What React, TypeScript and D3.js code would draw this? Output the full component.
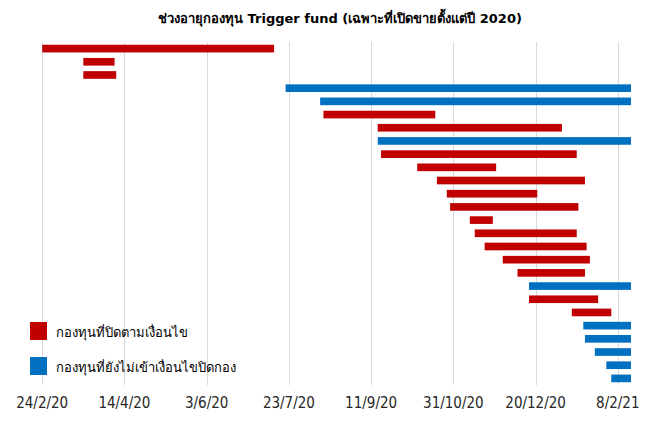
import { useEffect, useRef } from 'react';
import * as d3 from 'd3';

// one row per fund, top to bottom; end === null means still open on asOfDate
const fundStarts = [
	'2020-02-24', '2020-03-20', '2020-03-20', '2020-07-21', '2020-08-11',
	'2020-08-13', '2020-09-15', '2020-09-15', '2020-09-17', '2020-10-09',
	'2020-10-21', '2020-10-27', '2020-10-29', '2020-11-10', '2020-11-13',
	'2020-11-19', '2020-11-30', '2020-12-09', '2020-12-16', '2020-12-16',
	'2021-01-11', '2021-01-18', '2021-01-19', '2021-01-25', '2021-02-01',
	'2021-02-04',
];

const fundEnds: (string | null)[] = [
	'2020-07-14', '2020-04-08', '2020-04-09', null, null,
	'2020-10-20', '2021-01-05', null, '2021-01-14', '2020-11-26',
	'2021-01-19', '2020-12-21', '2021-01-15', '2020-11-24', '2021-01-14',
	'2021-01-20', '2021-01-22', '2021-01-19', null, '2021-01-27',
	'2021-02-04', null, null, null, null,
	null,
];

const asOfDate = '2021-02-16';

const tickDates = [
	'2020-02-24', '2020-04-14', '2020-06-03', '2020-07-23',
	'2020-09-11', '2020-10-31', '2020-12-20', '2021-02-08',
];

const legendLabels = ['กองทุนที่ปิดตามเงื่อนไข', 'กองทุนที่ยังไม่เข้าเงื่อนไขปิดกอง'];
const legendColors = ['#C00000', '#0070C0'];

const title = 'ช่วงอายุกองทุน Trigger fund (เฉพาะที่เปิดขายตั้งแต่ปี 2020)';

const width = 658;
const height = 427;

export default function App() {
	const svgRef = useRef<SVGSVGElement>(null);

	useEffect(() => {
		if (!svgRef.current) return;
		const svg = d3.select(svgRef.current);
		svg.selectAll('*').remove();

		const parse = d3.utcParse('%Y-%m-%d');
		const fmt = d3.utcFormat('%-d/%-m/%y');

		const x = d3
			.scaleUtc()
			.domain([parse(tickDates[0])!, parse(asOfDate)!])
			.range([42.2, 631]);

		const rows = fundStarts.map((s, i) => ({
			id: String(i),
			start: parse(s)!,
			end: parse(fundEnds[i] ?? asOfDate)!,
			open: fundEnds[i] === null,
		}));

		const y = d3
			.scaleBand<string>()
			.domain(rows.map((r) => r.id))
			.range([42, 385])
			.paddingInner(0.42)
			.paddingOuter(0.21);

		// title
		svg
			.append('text')
			.attr('x', 340)
			.attr('y', 23)
			.attr('text-anchor', 'middle')
			.attr('font-family', 'Tahoma, "DejaVu Sans", sans-serif')
			.attr('font-size', '13px')
			.attr('font-weight', 'bold')
			.attr('fill', '#000')
			.text(title);

		// vertical gridlines
		const ticks = tickDates.map((d) => parse(d)!);
		svg
			.append('g')
			.selectAll('line')
			.data(ticks)
			.enter()
			.append('line')
			.attr('x1', (d) => Math.round(x(d)) + 0.5)
			.attr('x2', (d) => Math.round(x(d)) + 0.5)
			.attr('y1', 42)
			.attr('y2', 385)
			.attr('stroke', '#D9D9D9')
			.attr('stroke-width', 1);

		// bars
		svg
			.append('g')
			.selectAll('rect')
			.data(rows)
			.enter()
			.append('rect')
			.attr('x', (d) => x(d.start))
			.attr('width', (d) => x(d.end) - x(d.start))
			.attr('y', (d) => y(d.id)!)
			.attr('height', y.bandwidth())
			.attr('fill', (d) => (d.open ? legendColors[1] : legendColors[0]));

		// x axis labels
		svg
			.append('g')
			.selectAll('text')
			.data(ticks)
			.enter()
			.append('text')
			.attr('x', (d) => x(d))
			.attr('y', 408)
			.attr('text-anchor', 'middle')
			.attr('font-family', '"Liberation Sans Narrow", "DejaVu Sans Condensed", sans-serif')
			.attr('font-size', '15px')
			.attr('fill', '#262626')
			.text((d) => fmt(d));

		// legend
		const legend = svg
			.append('g')
			.selectAll('g')
			.data(legendLabels)
			.enter()
			.append('g')
			.attr('transform', (_, i) => `translate(30,${322 + i * 35})`);

		legend
			.append('rect')
			.attr('width', 17)
			.attr('height', 18)
			.attr('fill', (_, i) => legendColors[i]);

		legend
			.append('text')
			.attr('x', 26)
			.attr('y', 15)
			.attr('font-family', '"Liberation Sans Narrow", "DejaVu Sans Condensed", sans-serif')
			.attr('font-size', '13px')
			.attr('fill', '#000')
			.text((d) => d);
	}, []);

	return (
		<svg
			ref={svgRef}
			width={width}
			height={height}
			style={{ position: 'absolute', left: 0, top: 0, background: '#fff' }}
		/>
	);
}
